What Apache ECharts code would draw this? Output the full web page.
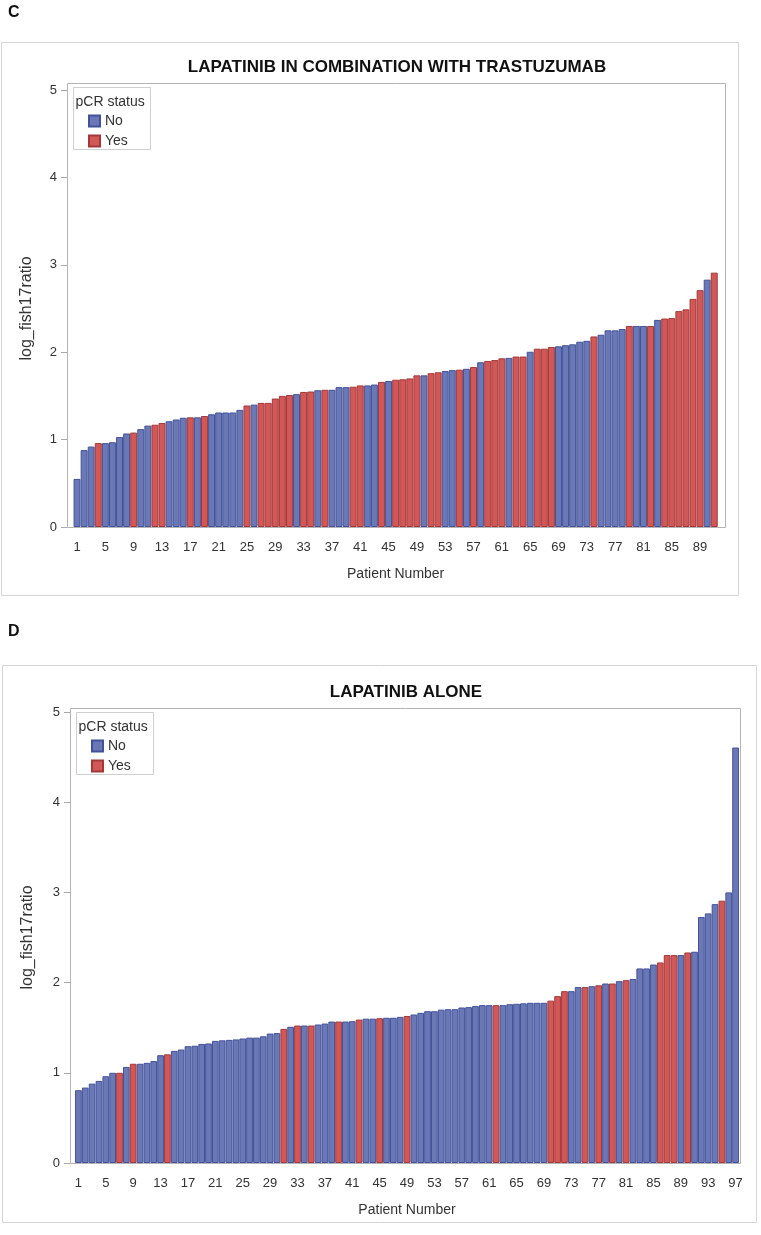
<!DOCTYPE html>
<html>
<head>
<meta charset="utf-8">
<script src="https://cdn.jsdelivr.net/npm/echarts@6/dist/echarts.min.js"></script>
<style>
  html, body { margin: 0; padding: 0; background: #fff; }
  #chart { width: 761px; height: 1235px; }
</style>
</head>
<body>
<div id="chart"></div>
<script>
// panel C: lapatinib + trastuzumab, sorted log_fish17ratio per patient
const cValues = [
  0.55, 0.88, 0.92, 0.96, 0.96, 0.97, 1.03, 1.07, 1.08, 1.12,
  1.16, 1.17, 1.19, 1.21, 1.23, 1.25, 1.255, 1.255, 1.27, 1.29,
  1.31, 1.31, 1.31, 1.34, 1.39, 1.40, 1.42, 1.42, 1.47, 1.50,
  1.51, 1.52, 1.545, 1.55, 1.565, 1.57, 1.57, 1.60, 1.60, 1.605,
  1.62, 1.62, 1.63, 1.66, 1.67, 1.685, 1.69, 1.70, 1.735, 1.735,
  1.76, 1.77, 1.785, 1.795, 1.80, 1.81, 1.83, 1.885, 1.90, 1.91,
  1.93, 1.935, 1.95, 1.95, 2.005, 2.04, 2.04, 2.06, 2.067, 2.08,
  2.09, 2.12, 2.13, 2.18, 2.20, 2.25, 2.25, 2.265, 2.30, 2.30,
  2.30, 2.30, 2.37, 2.385, 2.39, 2.47, 2.49, 2.61, 2.71, 2.83, 2.91
];
// pCR status: 1 = Yes, 0 = No
const cPcr = [
  0, 0, 0, 1, 0, 0, 0, 0, 1, 0,
  0, 1, 1, 0, 0, 0, 1, 0, 1, 0,
  0, 0, 0, 0, 1, 0, 1, 1, 1, 1,
  1, 0, 1, 1, 0, 1, 0, 0, 0, 1,
  1, 0, 0, 1, 0, 1, 1, 1, 1, 0,
  1, 1, 0, 0, 1, 0, 1, 0, 1, 1,
  1, 0, 1, 1, 0, 1, 1, 1, 0, 0,
  0, 0, 0, 1, 0, 0, 0, 0, 1, 0,
  0, 1, 0, 1, 1, 1, 1, 1, 1, 0, 1
];

// panel D: lapatinib alone
const dValues = [
  0.807, 0.836, 0.88, 0.91, 0.962, 1.0, 1.0, 1.065, 1.10, 1.10,
  1.11, 1.13, 1.195, 1.205, 1.243, 1.258, 1.295, 1.30, 1.32, 1.325,
  1.354, 1.36, 1.365, 1.37, 1.38, 1.39, 1.39, 1.405, 1.435, 1.44,
  1.487, 1.51, 1.524, 1.524, 1.524, 1.535, 1.546, 1.568, 1.568, 1.568,
  1.572, 1.59, 1.60, 1.60, 1.605, 1.61, 1.61, 1.62, 1.63, 1.646,
  1.665, 1.683, 1.683, 1.70, 1.705, 1.705, 1.724, 1.728, 1.74, 1.75,
  1.75, 1.75, 1.75, 1.76, 1.765, 1.77, 1.776, 1.776, 1.776, 1.80,
  1.85, 1.905, 1.905, 1.95, 1.95, 1.96, 1.97, 1.99, 1.99, 2.016,
  2.027, 2.04, 2.157, 2.157, 2.20, 2.223, 2.305, 2.305, 2.305, 2.334,
  2.342, 2.727, 2.767, 2.87, 2.908, 3.0, 4.606
];
const dPcr = [
  0, 0, 0, 0, 0, 0, 1, 0, 1, 0,
  0, 0, 0, 1, 0, 0, 0, 0, 0, 0,
  0, 0, 0, 0, 0, 0, 0, 0, 0, 0,
  1, 0, 1, 0, 1, 0, 0, 0, 1, 0,
  0, 1, 0, 0, 1, 0, 0, 0, 1, 0,
  0, 0, 0, 0, 0, 0, 0, 0, 0, 0,
  0, 1, 0, 0, 0, 0, 0, 0, 0, 1,
  1, 1, 0, 0, 1, 0, 1, 0, 1, 0,
  1, 0, 0, 0, 0, 1, 1, 1, 0, 1,
  0, 0, 0, 0, 1, 0, 0
];

const yTicks = [0, 1, 2, 3, 4, 5];
const statusNames = ['No', 'Yes'];
const titles = ['LAPATINIB IN COMBINATION WITH TRASTUZUMAB', 'LAPATINIB ALONE'];

const blue = '#6a79b6', blueEdge = '#42519a';
const red = '#d25858', redEdge = '#a43838';
const textColor = '#333';
const font = 'Arial, "Liberation Sans", sans-serif';

const cCats = cValues.map((v, i) => String(i + 1));
const dCats = dValues.map((v, i) => String(i + 1));

function split(values, pcr, flag) {
  return values.map((v, i) => (pcr[i] === flag ? v : '-'));
}

function xAxis(gridIndex, cats) {
  return {
    type: 'category',
    gridIndex,
    data: cats,
    name: 'Patient Number',
    nameLocation: 'middle',
    nameGap: 40,
    nameTextStyle: { fontSize: 14, color: textColor, fontFamily: font },
    axisLine: { lineStyle: { color: '#a8a8a8' } },
    axisTick: { interval: 3, alignWithLabel: true, length: 6, lineStyle: { color: '#a8a8a8' } },
    axisLabel: { interval: 3, fontSize: 13, color: textColor, fontFamily: font, margin: 14 }
  };
}

function yAxis(gridIndex, offset, gap) {
  return {
    type: 'value',
    gridIndex,
    min: yTicks[0],
    max: yTicks[yTicks.length - 1],
    interval: 1,
    offset,
    name: 'log_fish17ratio',
    nameLocation: 'middle',
    nameRotate: 90,
    nameGap: gap,
    nameTextStyle: { fontSize: 16, color: textColor, fontFamily: font },
    axisLine: { show: true, lineStyle: { color: '#a8a8a8' } },
    axisTick: { show: true, length: 6, lineStyle: { color: '#a8a8a8' } },
    axisLabel: { fontSize: 13, color: textColor, fontFamily: font, margin: 10 },
    splitLine: { show: false }
  };
}

function barSeries(name, idx, data) {
  const isYes = name === 'Yes';
  return {
    name,
    type: 'bar',
    xAxisIndex: idx,
    yAxisIndex: idx,
    data,
    barGap: '-100%',
    barCategoryGap: '2%',
    animation: false,
    itemStyle: {
      color: isYes ? red : blue,
      borderColor: isYes ? redEdge : blueEdge,
      borderWidth: 1
    }
  };
}

function legendBox(x, y) {
  return [
    {
      type: 'rect',
      shape: { x, y, width: 77, height: 62 },
      style: { fill: '#fff', stroke: '#cfcfcf', lineWidth: 1 },
      z: 10
    },
    {
      type: 'text',
      x: x + 2,
      y: y + 8,
      style: { text: 'pCR status', fontSize: 14, fill: textColor, fontFamily: font },
      z: 11
    }
  ];
}

function legend(left, top) {
  return {
    data: statusNames, orient: 'vertical', left, top,
    icon: 'rect',
    itemWidth: 11, itemHeight: 11, itemGap: 6, padding: 0, z: 12,
    textStyle: { fontSize: 14, color: textColor, fontFamily: font }
  };
}

const chart = echarts.init(document.getElementById('chart'));

chart.setOption({
  backgroundColor: '#fff',
  title: [
    {
      text: titles[0],
      left: 392, top: 54, textAlign: 'center',
      textStyle: { fontSize: 17, fontWeight: 'bold', color: '#111', fontFamily: font }
    },
    {
      text: titles[1],
      left: 401, top: 679, textAlign: 'center',
      textStyle: { fontSize: 17, fontWeight: 'bold', color: '#111', fontFamily: font }
    }
  ],
  grid: [
    { left: 73.5, top: 90, width: 644.3, height: 437 },
    { left: 75, top: 712, width: 664, height: 451 }
  ],
  xAxis: [xAxis(0, cCats), xAxis(1, dCats)],
  yAxis: [yAxis(0, 6.5, 32), yAxis(1, 5, 34)],
  legend: [legend(88, 114), legend(91, 739)],
  series: [
    barSeries('No', 0, split(cValues, cPcr, 0)),
    barSeries('Yes', 0, split(cValues, cPcr, 1)),
    barSeries('No', 1, split(dValues, dPcr, 0)),
    barSeries('Yes', 1, split(dValues, dPcr, 1))
  ],
  graphic: [
    // panel letters
    { type: 'text', x: 8, y: 5, style: { text: 'C', fontSize: 16, fontWeight: 'bold', fill: '#111', fontFamily: font } },
    { type: 'text', x: 8, y: 624, style: { text: 'D', fontSize: 16, fontWeight: 'bold', fill: '#111', fontFamily: font } },
    // outer frames
    { type: 'rect', shape: { x: 1.5, y: 42.5, width: 737, height: 553 }, style: { fill: 'none', stroke: '#d6d6d6', lineWidth: 1 }, z: -1 },
    { type: 'rect', shape: { x: 2.5, y: 665.5, width: 754, height: 557 }, style: { fill: 'none', stroke: '#d6d6d6', lineWidth: 1 }, z: -1 },
    // plot walls
    { type: 'rect', shape: { x: 67.5, y: 83.5, width: 658, height: 444 }, style: { fill: 'none', stroke: '#b4b4b4', lineWidth: 1 }, z: 5 },
    { type: 'rect', shape: { x: 70.5, y: 708.5, width: 670, height: 455 }, style: { fill: 'none', stroke: '#b4b4b4', lineWidth: 1 }, z: 5 },
    ...legendBox(73.5, 87.5),
    ...legendBox(76.5, 712.5)
  ]
});
</script>
</body>
</html>
